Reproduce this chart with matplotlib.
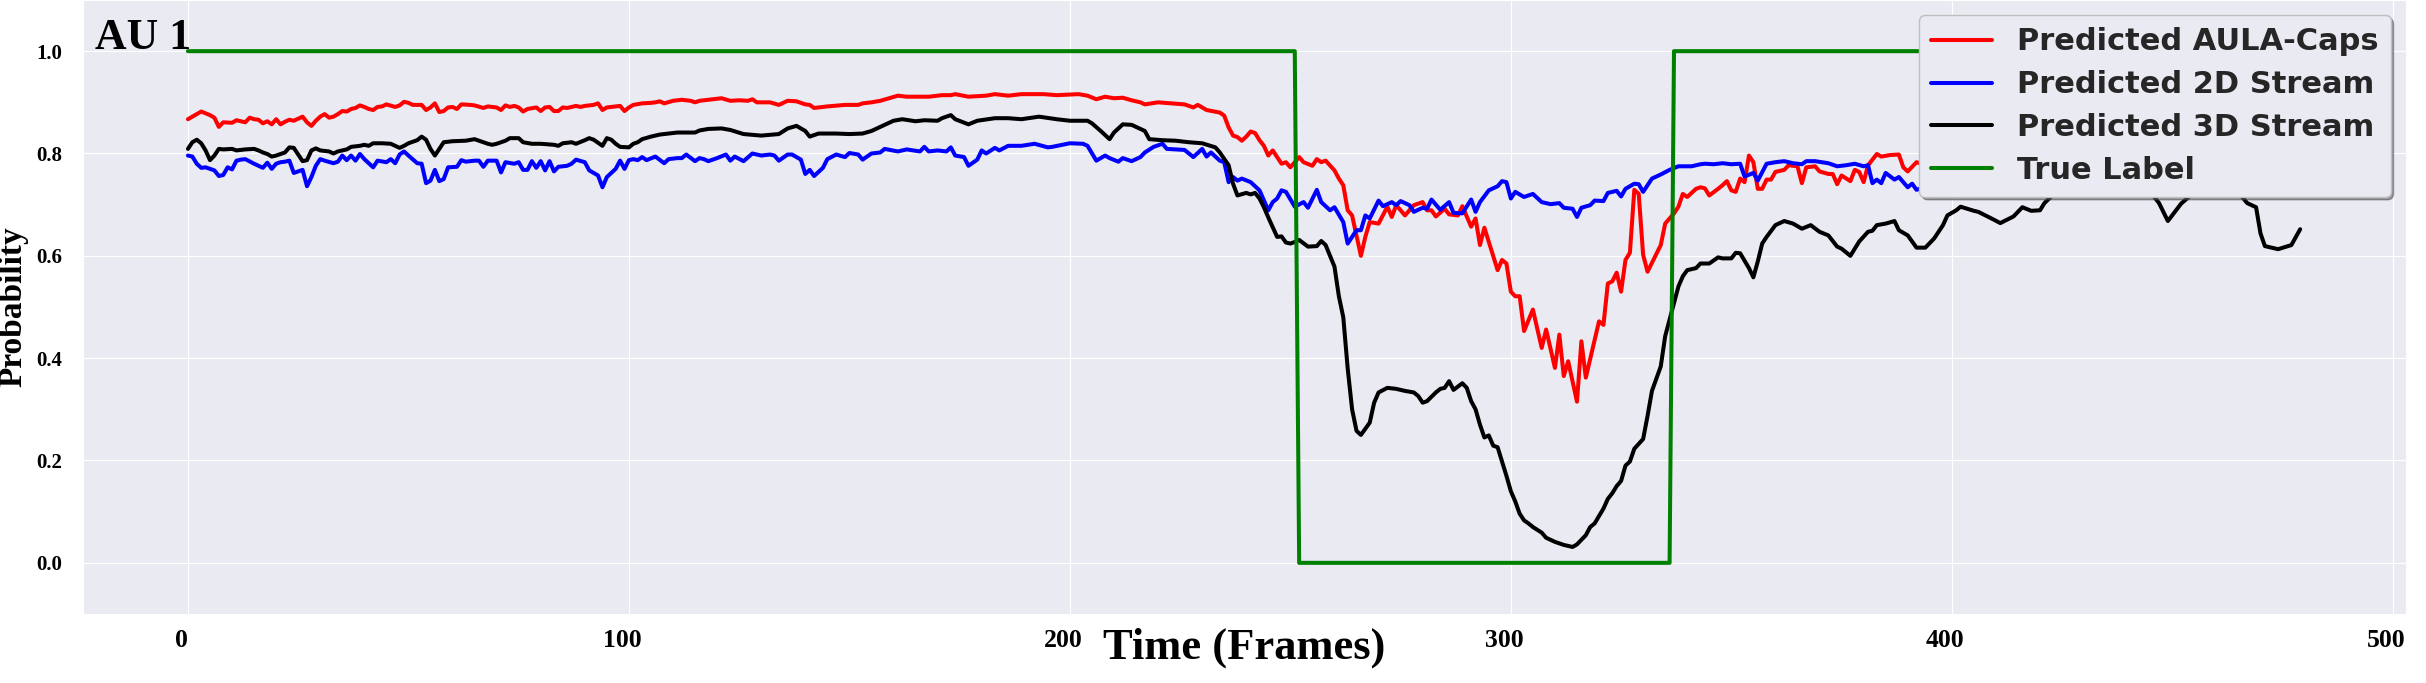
import matplotlib
matplotlib.use("Agg")
import matplotlib.pyplot as plt
import matplotlib.transforms as mtransforms
import seaborn as sns

sns.set_style("darkgrid")

# ---------------- data ----------------
title_text = "AU 1"
xlabel_text = "Time (Frames)"
ylabel_text = "Probability"
series_labels = ["Predicted AULA-Caps", "Predicted 2D Stream", "Predicted 3D Stream", "True Label"]
xticks = [0, 100, 200, 300, 400, 500]
yticks = [0.0, 0.2, 0.4, 0.6, 0.8, 1.0]

red_frames = [0, 2, 3, 5, 6, 7, 8, 10, 11, 13, 14, 15, 16, 17, 18, 19, 20, 21, 22, 23, 24, 26, 27, 28, 29, 30,
              31, 32, 33, 34, 35, 36, 37, 38, 39, 40, 41, 42, 43, 44, 45, 47, 48, 49, 50, 51, 53, 54, 55, 56, 57,
              58, 59, 60, 61, 62, 64, 65, 67, 68, 70, 71, 72, 73, 74, 75, 76, 77, 79, 80, 81, 82, 83, 84, 85, 86,
              88, 89, 90, 92, 93, 94, 95, 97, 98, 99, 100, 101, 103, 105, 106, 107, 108, 110, 112, 114, 115, 116,
              118, 121, 123, 125, 127, 128, 129, 132, 134, 136, 138, 140, 141, 142, 145, 149, 152, 153, 155, 157,
              159, 161, 163, 165, 168, 171, 173, 174, 177, 181, 183, 186, 189, 194, 197, 202, 204, 206, 208, 210,
              212, 214, 216, 217, 220, 223, 226, 228, 229, 231, 234, 235, 236, 237, 238, 239, 240, 241, 242, 243,
              244, 245, 246, 248, 249, 250, 252, 253, 255, 256, 257, 258, 260, 261, 262, 263, 264, 266, 267, 268,
              270, 272, 273, 274, 276, 278, 280, 281, 282, 283, 285, 286, 288, 289, 291, 292, 293, 294, 297, 298,
              299, 300, 301, 302, 303, 305, 307, 308, 310, 311, 312, 313, 315, 316, 317, 320, 321, 322, 323, 324,
              325, 326, 327, 328, 329, 330, 331, 334, 335, 337, 338, 339, 340, 342, 343, 344, 345, 347, 348, 349,
              350, 351, 352, 353, 354, 355, 356, 357, 358, 359, 360, 362, 363, 365, 366, 367, 369, 370, 372, 373,
              374, 375, 377, 378, 379, 380, 381, 383, 384, 386, 388, 389, 390, 392, 393, 396, 400, 405, 410, 415,
              420, 425, 430, 435, 440, 445, 450, 455, 460, 465, 470, 475, 479]
red_vals = [.867, .877, .882, .875, .870, .852, .861, .860, .865, .861, .870, .867, .866, .859, .863, .857, .867,
            .857, .862, .866, .864, .872, .861, .854, .864, .872, .877, .870, .872, .877, .883, .882, .887, .889,
            .894, .891, .887, .885, .891, .892, .896, .891, .894, .901, .899, .895, .895, .885, .890, .898, .881,
            .883, .890, .891, .887, .896, .895, .894, .889, .892, .890, .885, .894, .891, .893, .890, .882, .887,
            .890, .883, .890, .891, .883, .883, .890, .889, .893, .891, .893, .895, .898, .885, .890, .892, .893,
            .883, .890, .895, .898, .899, .900, .902, .898, .903, .905, .903, .900, .903, .905, .908, .903, .904,
            .903, .906, .900, .900, .895, .903, .902, .896, .895, .889, .892, .895, .895, .898, .900, .903, .908,
            .913, .911, .911, .911, .914, .914, .916, .911, .913, .916, .913, .916, .916, .914, .916, .913, .906,
            .911, .908, .909, .904, .900, .896, .900, .898, .896, .890, .895, .885, .880, .874, .851, .835, .832,
            .825, .833, .843, .840, .826, .815, .796, .806, .780, .783, .773, .793, .783, .776, .789, .783, .786,
            .767, .751, .738, .689, .679, .600, .637, .666, .663, .696, .676, .699, .679, .699, .705, .689, .689,
            .677, .692, .681, .679, .697, .657, .673, .621, .655, .572, .592, .585, .530, .521, .521, .453, .495,
            .420, .456, .381, .446, .365, .394, .315, .433, .362, .472, .465, .546, .550, .567, .530, .592, .606,
            .729, .721, .602, .569, .621, .663, .683, .696, .721, .715, .731, .734, .732, .718, .731, .738, .746,
            .728, .725, .751, .744, .796, .783, .731, .731, .749, .749, .764, .768, .777, .775, .742, .773, .775,
            .765, .760, .760, .740, .757, .746, .768, .764, .744, .777, .799, .794, .797, .798, .773, .765, .783,
            .780, .785, .778, .786, .780, .790, .784, .779, .788, .782, .790, .785, .780, .788, .783, .790, .784,
            .781, .787]

blue_frames = [0, 1, 2, 3, 4, 6, 7, 8, 9, 10, 11, 12, 13, 15, 16, 17, 18, 19, 20, 21, 22, 23, 24, 25, 26, 27, 28,
               29, 30, 31, 33, 34, 35, 36, 37, 38, 39, 40, 42, 43, 45, 46, 47, 48, 49, 50, 52, 53, 54, 55, 56, 57,
               58, 59, 61, 62, 63, 65, 66, 67, 68, 70, 71, 72, 74, 75, 76, 77, 78, 79, 80, 81, 82, 83, 84, 86, 87,
               88, 90, 91, 93, 94, 95, 97, 98, 99, 100, 101, 102, 103, 104, 106, 108, 109, 111, 112, 113, 115, 116,
               117, 118, 120, 122, 123, 124, 126, 128, 130, 132, 133, 134, 136, 137, 139, 140, 141, 142, 144, 145,
               147, 149, 150, 152, 153, 155, 157, 158, 161, 163, 166, 167, 168, 170, 172, 173, 174, 176, 177, 179,
               180, 181, 183, 184, 186, 189, 192, 195, 196, 200, 203, 204, 206, 208, 209, 211, 212, 214, 216, 217,
               219, 221, 222, 226, 228, 230, 231, 232, 234, 235, 236, 237, 238, 239, 241, 243, 245, 246, 247, 248,
               249, 251, 253, 254, 256, 257, 259, 260, 262, 263, 265, 266, 267, 268, 270, 271, 273, 274, 275, 277,
               278, 280, 281, 282, 284, 286, 287, 289, 291, 292, 293, 295, 297, 298, 299, 300, 301, 303, 305, 307,
               309, 311, 312, 314, 315, 316, 318, 319, 321, 322, 324, 325, 326, 328, 329, 330, 332, 334, 336, 338,
               341, 343, 344, 346, 348, 350, 352, 353, 355, 356, 358, 360, 362, 364, 366, 367, 369, 372, 374, 376,
               378, 380, 381, 382, 383, 384, 385, 387, 388, 390, 391, 392, 395, 400, 405, 410, 415, 420, 425, 430,
               435, 440, 445, 450, 455, 460, 465, 470, 475, 479]
blue_vals = [.796, .794, .780, .772, .773, .767, .756, .758, .773, .769, .786, .788, .789, .780, .776, .772, .782,
             .770, .780, .783, .784, .786, .762, .765, .768, .736, .754, .776, .789, .786, .781, .784, .796, .787,
             .796, .786, .799, .789, .773, .786, .783, .789, .781, .798, .804, .796, .781, .780, .742, .747, .768,
             .746, .750, .773, .774, .787, .784, .786, .786, .774, .786, .786, .763, .783, .780, .783, .768, .768,
             .785, .772, .785, .767, .785, .765, .774, .776, .780, .788, .783, .767, .757, .734, .754, .770, .786,
             .770, .787, .789, .787, .793, .787, .794, .781, .789, .791, .791, .798, .785, .791, .789, .785, .791,
             .798, .786, .794, .785, .800, .796, .798, .796, .786, .798, .798, .788, .760, .768, .756, .772, .789,
             .798, .793, .801, .798, .788, .800, .802, .809, .804, .808, .804, .813, .804, .806, .804, .812, .796,
             .793, .776, .788, .806, .800, .811, .806, .815, .815, .819, .812, .813, .820, .819, .815, .786, .796,
             .791, .784, .791, .785, .793, .802, .813, .819, .809, .807, .793, .809, .794, .802, .786, .783, .744,
             .754, .747, .751, .744, .728, .689, .705, .712, .728, .725, .696, .705, .694, .729, .705, .689, .695,
             .666, .624, .650, .650, .679, .673, .708, .697, .705, .699, .707, .699, .686, .694, .692, .710, .690,
             .705, .684, .683, .710, .686, .705, .728, .736, .746, .744, .712, .725, .715, .721, .705, .701, .703,
             .694, .692, .676, .694, .699, .708, .707, .723, .727, .716, .731, .741, .740, .725, .751, .759, .768,
             .775, .775, .779, .780, .779, .781, .779, .780, .755, .762, .747, .780, .783, .785, .781, .779, .785,
             .785, .781, .775, .777, .780, .775, .777, .742, .749, .742, .762, .749, .754, .734, .741, .729, .738,
             .745, .740, .748, .744, .750, .742, .747, .752, .745, .749, .743, .750, .746, .752, .747, .744, .749]

black_frames = [0, 1, 2, 3, 4, 5, 6, 7, 8, 10, 11, 13, 15, 16, 17, 18, 19, 20, 22, 23, 24, 25, 26, 27, 28, 29, 30,
                32, 33, 34, 36, 37, 39, 40, 41, 42, 44, 46, 47, 48, 49, 50, 52, 53, 54, 55, 56, 57, 58, 60, 63, 65,
                66, 68, 69, 70, 72, 73, 75, 76, 78, 80, 83, 84, 85, 87, 88, 90, 91, 92, 94, 95, 96, 97, 98, 100, 101,
                102, 103, 105, 107, 109, 111, 115, 116, 118, 121, 123, 126, 130, 134, 136, 138, 140, 141, 143, 147,
                150, 153, 155, 157, 160, 162, 165, 167, 170, 171, 173, 174, 177, 179, 183, 186, 189, 193, 197, 200,
                204, 205, 207, 209, 210, 212, 214, 217, 218, 221, 224, 227, 230, 233, 234, 236, 237, 238, 240, 241,
                242, 243, 244, 245, 247, 248, 249, 250, 251, 252, 254, 256, 257, 258, 260, 261, 262, 263, 264, 265,
                266, 268, 269, 270, 272, 274, 276, 278, 279, 280, 281, 283, 284, 285, 286, 287, 289, 290, 291, 292,
                293, 294, 295, 296, 297, 299, 300, 301, 302, 303, 304, 305, 307, 308, 310, 312, 314, 315, 316, 317,
                318, 319, 321, 322, 323, 324, 325, 326, 327, 328, 330, 331, 332, 334, 335, 337, 338, 339, 340, 342,
                343, 345, 347, 348, 350, 351, 352, 354, 355, 356, 357, 358, 360, 362, 364, 366, 368, 370, 372, 374,
                375, 377, 379, 381, 382, 383, 385, 387, 388, 390, 392, 394, 396, 398, 399, 401, 402, 405, 406, 409,
                411, 414, 416, 418, 420, 421, 424, 428, 432, 436, 440, 444, 447, 449, 452, 456, 460, 464, 467, 469,
                470, 471, 473, 474, 477, 479]
black_vals = [.809, .822, .827, .820, .806, .787, .796, .809, .808, .809, .806, .808, .809, .806, .802, .799, .794,
              .796, .802, .812, .811, .798, .785, .787, .806, .810, .806, .804, .800, .804, .808, .813, .815, .817,
              .815, .820, .820, .819, .815, .811, .815, .820, .826, .833, .827, .809, .796, .809, .822, .824, .825,
              .828, .825, .819, .817, .819, .825, .830, .830, .822, .819, .819, .817, .815, .820, .822, .819, .826,
              .830, .827, .815, .830, .827, .819, .813, .812, .819, .822, .828, .833, .837, .839, .841, .841, .845,
              .848, .849, .846, .838, .835, .838, .849, .854, .844, .833, .839, .839, .838, .839, .844, .852, .864,
              .867, .863, .865, .864, .869, .875, .867, .857, .864, .869, .869, .867, .872, .867, .864, .864, .859,
              .844, .828, .841, .857, .856, .844, .828, .826, .825, .822, .820, .812, .802, .777, .741, .718, .723,
              .720, .723, .712, .695, .675, .637, .638, .626, .624, .627, .631, .618, .619, .629, .621, .579, .521,
              .480, .380, .300, .258, .250, .274, .313, .333, .342, .340, .336, .333, .326, .313, .316, .333, .340,
              .342, .355, .338, .351, .342, .316, .300, .270, .245, .249, .229, .226, .170, .140, .120, .096, .083,
              .077, .070, .059, .049, .041, .035, .031, .036, .045, .054, .070, .077, .106, .125, .136, .150, .160,
              .190, .198, .223, .242, .287, .336, .384, .443, .508, .540, .560, .572, .576, .585, .585, .597, .595,
              .595, .606, .605, .576, .558, .589, .624, .637, .660, .668, .663, .653, .660, .647, .640, .618, .614,
              .600, .628, .647, .649, .660, .663, .668, .650, .640, .616, .616, .634, .660, .679, .689, .696, .688,
              .686, .673, .664, .677, .695, .688, .689, .703, .728, .736, .740, .735, .742, .736, .703, .668, .702,
              .732, .738, .734, .703, .695, .644, .619, .615, .613, .621, .652]

true_frames = [0, 251, 252, 336, 337, 479]
true_vals = [1, 1, 0, 0, 1, 1]

# ---------------- figure ----------------
SERIF = "Liberation Serif"
fig = plt.figure(figsize=(24.26, 6.83), dpi=100)
ax = fig.add_axes([83 / 2426, 1 - 614 / 683, (2406 - 83) / 2426, 614 / 683])

lw = 2.9
ax.plot(red_frames, red_vals, color="red", lw=lw, label=series_labels[0])
ax.plot(blue_frames, blue_vals, color="blue", lw=lw, label=series_labels[1])
ax.plot(black_frames, black_vals, color="black", lw=lw, label=series_labels[2])
ax.plot(true_frames, true_vals, color="green", lw=lw, label=series_labels[3])

ax.set_xlim(-23.8, 503)
ax.set_ylim(-0.1, 1.1)
ax.set_xticks(xticks)
ax.set_yticks(yticks)
ax.set_xticklabels([str(t) for t in xticks], fontsize=18.5, fontweight="bold", family=SERIF, color="black")
ax.set_yticklabels([f"{t:.1f}" for t in yticks], fontsize=15, fontweight="bold", family=SERIF, color="black")
ax.tick_params(axis="y", pad=15, length=0)
ax.tick_params(axis="x", pad=11, length=0)

offset = mtransforms.ScaledTranslation(-7 / 100, 0, fig.dpi_scale_trans)
for lab in ax.get_xticklabels():
    lab.set_transform(lab.get_transform() + offset)

ax.set_xlabel(xlabel_text, fontsize=32, fontweight="bold", family=SERIF, color="black")
ax.xaxis.set_label_coords(0.5, -0.022)
ax.set_ylabel(ylabel_text, fontsize=24, fontweight="bold", family=SERIF, color="black")
ax.yaxis.set_label_coords(-0.0235, 0.5)

ax.text(-21, 1.005, title_text, fontsize=31.5, fontweight="bold", family=SERIF,
        color="black", va="baseline", ha="left")

leg = ax.legend(loc="upper right", prop={"size": 22, "weight": "bold", "family": "DejaVu Sans"},
                labelspacing=0.45, shadow=True, framealpha=1, handlelength=2.0, handletextpad=0.8,
                borderpad=0.4, fancybox=True)
leg.get_frame().set_edgecolor("0.75")
for t in leg.get_texts():
    t.set_color("0.15")
for h in leg.get_lines():
    h.set_linewidth(lw)

fig.savefig("out.png", dpi=100)
